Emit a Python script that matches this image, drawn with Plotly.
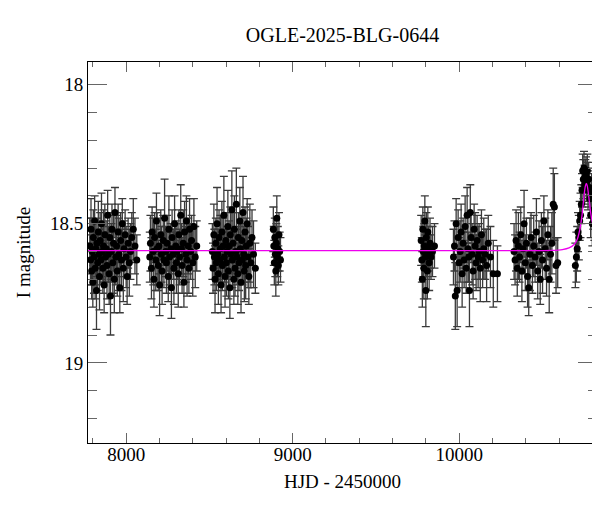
import plotly.graph_objects as go

# ---- data (HJD - 2450000, I magnitude, error) ----
t_s1 = [7782, 7786, 7789, 7793, 7796, 7800, 7803, 7807, 7811, 7814, 7818, 7822, 7825, 7829, 7833,
        7837, 7840, 7844, 7848, 7852, 7856, 7860, 7864, 7868, 7872, 7876, 7880, 7885, 7889, 7893,
        7898, 7902, 7906, 7911, 7915, 7920, 7924, 7929, 7933, 7938, 7943, 7947, 7952, 7957, 7962,
        7967, 7972, 7977, 7983, 7988, 7994, 8000, 8006, 8012, 8019, 8026, 8034, 8043, 8053, 8064]
m_s1 = [18.58, 18.63, 18.52, 18.67, 18.60, 18.71, 18.55, 18.62, 18.49, 18.66,
        18.59, 18.74, 18.57, 18.64, 18.53, 18.61, 18.69, 18.56, 18.63, 18.50,
        18.60, 18.66, 18.58, 18.72, 18.54, 18.62, 18.59, 18.65, 18.47, 18.61,
        18.68, 18.55, 18.76, 18.60, 18.52, 18.64, 18.57, 18.70, 18.46, 18.62,
        18.58, 18.67, 18.53, 18.61, 18.73, 18.56, 18.63, 18.50, 18.66, 18.59,
        18.54, 18.62, 18.69, 18.57, 18.64, 18.60, 18.55, 18.52, 18.58, 18.63]
e_s1 = [0.10, 0.09, 0.11, 0.10, 0.12, 0.09, 0.10, 0.13, 0.09, 0.11,
        0.10, 0.14, 0.09, 0.10, 0.11, 0.09, 0.12, 0.10, 0.09, 0.11,
        0.10, 0.09, 0.13, 0.10, 0.11, 0.09, 0.10, 0.12, 0.09, 0.10,
        0.11, 0.09, 0.14, 0.10, 0.09, 0.11, 0.10, 0.12, 0.09, 0.10,
        0.11, 0.09, 0.10, 0.13, 0.09, 0.10, 0.11, 0.09, 0.12, 0.10,
        0.09, 0.11, 0.10, 0.09, 0.12, 0.10, 0.09, 0.11, 0.10, 0.09]

t_s2 = [8142, 8146, 8152, 8156, 8163, 8167, 8171, 8178, 8182, 8186, 8193, 8197, 8201, 8208, 8212,
        8216, 8223, 8227, 8231, 8238, 8242, 8246, 8253, 8257, 8261, 8268, 8272, 8276, 8283, 8287,
        8291, 8298, 8302, 8306, 8313, 8317, 8321, 8328, 8332, 8336, 8343, 8347, 8351, 8358, 8362,
        8366, 8373, 8377, 8381, 8388, 8393, 8400, 8407, 8415, 8424]
m_s2 = [18.62, 18.57, 18.66, 18.53, 18.60, 18.70, 18.55, 18.63, 18.49, 18.59,
        18.65, 18.58, 18.72, 18.54, 18.61, 18.67, 18.56, 18.63, 18.48, 18.60,
        18.64, 18.57, 18.69, 18.52, 18.62, 18.59, 18.73, 18.55, 18.61, 18.66,
        18.50, 18.58, 18.64, 18.60, 18.68, 18.54, 18.62, 18.47, 18.59, 18.65,
        18.57, 18.71, 18.53, 18.61, 18.49, 18.63, 18.58, 18.66, 18.52, 18.60,
        18.56, 18.64, 18.51, 18.62, 18.58]
e_s2 = [0.09, 0.10, 0.11, 0.09, 0.12, 0.10, 0.09, 0.11, 0.10, 0.13,
        0.09, 0.10, 0.11, 0.09, 0.10, 0.12, 0.09, 0.10, 0.14, 0.09,
        0.11, 0.10, 0.09, 0.12, 0.10, 0.09, 0.11, 0.10, 0.09, 0.13,
        0.10, 0.09, 0.11, 0.10, 0.12, 0.09, 0.10, 0.11, 0.09, 0.10,
        0.12, 0.09, 0.11, 0.10, 0.09, 0.13, 0.10, 0.09, 0.11, 0.10,
        0.09, 0.12, 0.10, 0.11, 0.09]

t_s3 = [8518, 8522, 8527, 8530, 8534, 8539, 8542, 8546, 8551, 8554, 8558, 8563, 8566, 8570, 8575,
        8578, 8582, 8587, 8590, 8594, 8599, 8602, 8606, 8611, 8614, 8618, 8623, 8626, 8630, 8635,
        8638, 8642, 8647, 8650, 8654, 8659, 8662, 8666, 8671, 8674, 8678, 8683, 8686, 8690, 8695,
        8698, 8702, 8707, 8710, 8714, 8718, 8722, 8727, 8732, 8737, 8743, 8749, 8756, 8765, 8776]
m_s3 = [18.60, 18.66, 18.54, 18.62, 18.70, 18.57, 18.64, 18.50, 18.61, 18.68,
        18.55, 18.63, 18.59, 18.72, 18.53, 18.65, 18.58, 18.47, 18.62, 18.69,
        18.56, 18.64, 18.60, 18.51, 18.67, 18.58, 18.73, 18.54, 18.61, 18.45,
        18.63, 18.57, 18.70, 18.52, 18.66, 18.60, 18.43, 18.62, 18.68, 18.55,
        18.64, 18.49, 18.59, 18.71, 18.56, 18.63, 18.46, 18.61, 18.67, 18.53,
        18.65, 18.58, 18.50, 18.62, 18.69, 18.57, 18.64, 18.55, 18.61, 18.66]
e_s3 = [0.10, 0.09, 0.11, 0.10, 0.12, 0.09, 0.10, 0.13, 0.09, 0.11,
        0.10, 0.09, 0.12, 0.10, 0.11, 0.09, 0.10, 0.14, 0.09, 0.11,
        0.10, 0.12, 0.09, 0.13, 0.10, 0.09, 0.11, 0.10, 0.09, 0.14,
        0.10, 0.11, 0.09, 0.12, 0.10, 0.09, 0.13, 0.10, 0.11, 0.09,
        0.10, 0.12, 0.09, 0.11, 0.10, 0.09, 0.13, 0.10, 0.11, 0.09,
        0.12, 0.10, 0.09, 0.11, 0.10, 0.14, 0.09, 0.10, 0.12, 0.09]

t_s4 = [8884, 8887, 8890, 8893, 8896, 8899, 8902, 8905, 8908, 8911, 8914, 8918, 8922, 8927]
m_s4 = [18.52, 18.58, 18.64, 18.55, 18.61, 18.67, 18.57, 18.48, 18.62, 18.59, 18.65, 18.54, 18.60, 18.63]
e_s4 = [0.08, 0.07, 0.08, 0.07, 0.08, 0.09, 0.07, 0.08, 0.07, 0.08, 0.07, 0.08, 0.07, 0.08]

t_s5 = [9772, 9776, 9779, 9782, 9785, 9788, 9791, 9794, 9797, 9800,
        9803, 9806, 9809, 9812, 9816, 9820, 9825, 9831, 9840, 9852]
m_s5 = [18.56, 18.63, 18.70, 18.52, 18.60, 18.66, 18.58, 18.49, 18.62, 18.74,
        18.55, 18.61, 18.67, 18.53, 18.59, 18.64, 18.57, 18.62, 18.60, 18.58]
e_s5 = [0.09, 0.08, 0.10, 0.08, 0.09, 0.11, 0.08, 0.09, 0.08, 0.13,
        0.09, 0.08, 0.10, 0.09, 0.08, 0.10, 0.09, 0.08, 0.09, 0.08]

t_s6 = [9966, 9972, 9977, 9982, 9988, 9994, 10000, 10006, 10012, 10018,
        10024, 10030, 10036, 10042, 10048, 10053, 10058, 10062, 10067, 10072,
        10078, 10084, 10090, 10096, 10102, 10108, 10114, 10120, 10127, 10134,
        10141, 10148, 10156, 10165, 10175, 10188, 10205, 10230]
m_s6 = [18.62, 18.58, 18.76, 18.50, 18.74, 18.55, 18.64, 18.60, 18.53, 18.68,
        18.57, 18.63, 18.51, 18.66, 18.47, 18.59, 18.62, 18.74, 18.46, 18.55,
        18.61, 18.67, 18.52, 18.58, 18.64, 18.56, 18.62, 18.60, 18.66, 18.54,
        18.63, 18.59, 18.61, 18.65, 18.57, 18.62, 18.68, 18.68]
e_s6 = [0.10, 0.09, 0.12, 0.09, 0.13, 0.10, 0.09, 0.11, 0.10, 0.12,
        0.09, 0.10, 0.11, 0.09, 0.10, 0.12, 0.09, 0.13, 0.10, 0.09,
        0.11, 0.10, 0.09, 0.12, 0.10, 0.09, 0.11, 0.10, 0.12, 0.09,
        0.10, 0.11, 0.09, 0.13, 0.10, 0.11, 0.12, 0.10]

t_s7 = [10330, 10336, 10342, 10349, 10356, 10363, 10370, 10377, 10384, 10390,
        10397, 10404, 10411, 10418, 10425, 10432, 10440, 10448, 10456, 10464,
        10472, 10480, 10487, 10494, 10501, 10509, 10517, 10525, 10533, 10541,
        10549, 10557, 10565, 10572, 10582, 10592]
m_s7 = [18.60, 18.63, 18.56, 18.66, 18.58, 18.62, 18.54, 18.67, 18.59, 18.50,
        18.64, 18.57, 18.69, 18.73, 18.61, 18.55, 18.65, 18.58, 18.62, 18.53,
        18.67, 18.60, 18.70, 18.56, 18.63, 18.49, 18.59, 18.66, 18.54, 18.70,
        18.61, 18.57, 18.43, 18.44, 18.65, 18.64]
e_s7 = [0.10, 0.09, 0.11, 0.10, 0.12, 0.09, 0.10, 0.11, 0.09, 0.12,
        0.10, 0.09, 0.11, 0.10, 0.13, 0.09, 0.10, 0.11, 0.09, 0.12,
        0.10, 0.11, 0.09, 0.10, 0.12, 0.09, 0.11, 0.10, 0.09, 0.12,
        0.10, 0.11, 0.13, 0.12, 0.10, 0.09]

t_s8 = [10698, 10704, 10709, 10714, 10719, 10724, 10729, 10734, 10738, 10742,
        10746, 10750, 10754, 10758, 10762, 10766, 10770, 10774, 10778, 10782,
        10786, 10790, 10795, 10800, 10806, 10812]
m_s8 = [18.65, 18.62, 18.59, 18.53, 18.55, 18.49, 18.47, 18.43, 18.38, 18.31,
        18.34, 18.30, 18.36, 18.33, 18.32, 18.35, 18.31, 18.38, 18.34, 18.37,
        18.41, 18.47, 18.39, 18.50, 18.45, 18.48]
e_s8 = [0.08, 0.09, 0.08, 0.07, 0.08, 0.07, 0.08, 0.07, 0.06, 0.06,
        0.07, 0.06, 0.07, 0.06, 0.06, 0.07, 0.06, 0.07, 0.06, 0.07,
        0.07, 0.08, 0.07, 0.08, 0.07, 0.08]

# model curve
t_model = [7771, 10400, 10560, 10620, 10660, 10690, 10710, 10725, 10738, 10750,
           10758, 10764, 10770, 10778, 10790, 10802, 10815, 10828]
m_model = [18.597, 18.597, 18.596, 18.593, 18.587, 18.575, 18.555, 18.52, 18.47, 18.40,
           18.365, 18.355, 18.365, 18.40, 18.46, 18.50, 18.52, 18.53]

x_ticks = [8000, 9000, 10000]
y_ticks = [18, 18.5, 19]
title_text = "OGLE-2025-BLG-0644"

t_all = t_s1 + t_s2 + t_s3 + t_s4 + t_s5 + t_s6 + t_s7 + t_s8
m_all = m_s1 + m_s2 + m_s3 + m_s4 + m_s5 + m_s6 + m_s7 + m_s8
e_all = e_s1 + e_s2 + e_s3 + e_s4 + e_s5 + e_s6 + e_s7 + e_s8

FONT = "Liberation Serif"
W, H = 592, 504  # page body adds an 8px margin

fig = go.Figure()
fig.add_trace(go.Scatter(
    x=t_all, y=m_all, mode="markers",
    marker=dict(color="black", size=7),
    error_y=dict(type="data", array=e_all, color="#3a3a3a", thickness=1.3, width=4),
    showlegend=False,
))
fig.add_trace(go.Scatter(
    x=t_model, y=m_model, mode="lines",
    line=dict(color="#ee00ee", width=1.3, shape="spline", smoothing=0.6),
    showlegend=False,
))

axis_common = dict(
    showline=True, linecolor="black", linewidth=1, mirror="ticks",
    ticks="inside", tickcolor="#666666", showgrid=False, zeroline=False,
    tickfont=dict(family=FONT, size=19, color="black"),
)

fig.update_layout(
    width=W, height=H,
    margin=dict(l=80, r=3, t=54, b=69),
    paper_bgcolor="white", plot_bgcolor="white",
    font=dict(family=FONT, color="black"),
    title=dict(text=title_text, x=(80 + 589) / 2 / W, xanchor="center",
               y=1 - 27 / H, yanchor="middle", yref="container",
               font=dict(family=FONT, size=20, color="black")),
    xaxis=dict(range=[7771, 10828], tickvals=x_ticks, ticktext=[str(v) for v in x_ticks],
               ticklen=10, tickwidth=1, ticklabelstandoff=-6,
               minor=dict(ticks="inside", ticklen=5, dtick=200, tick0=8000, tickcolor="#666666"),
               title=dict(text="HJD - 2450000", font=dict(family=FONT, size=19), standoff=10),
               **axis_common),
    yaxis=dict(range=[19.288, 17.919], tickvals=y_ticks, ticktext=["18", "18.5", "19"],
               ticklen=19, tickwidth=1,
               minor=dict(ticks="inside", ticklen=9, dtick=0.1, tick0=18, tickcolor="#666666"),
               title=dict(text="I magnitude", font=dict(family=FONT, size=19), standoff=14),
               **axis_common),
)

fig.write_html("out.html")
